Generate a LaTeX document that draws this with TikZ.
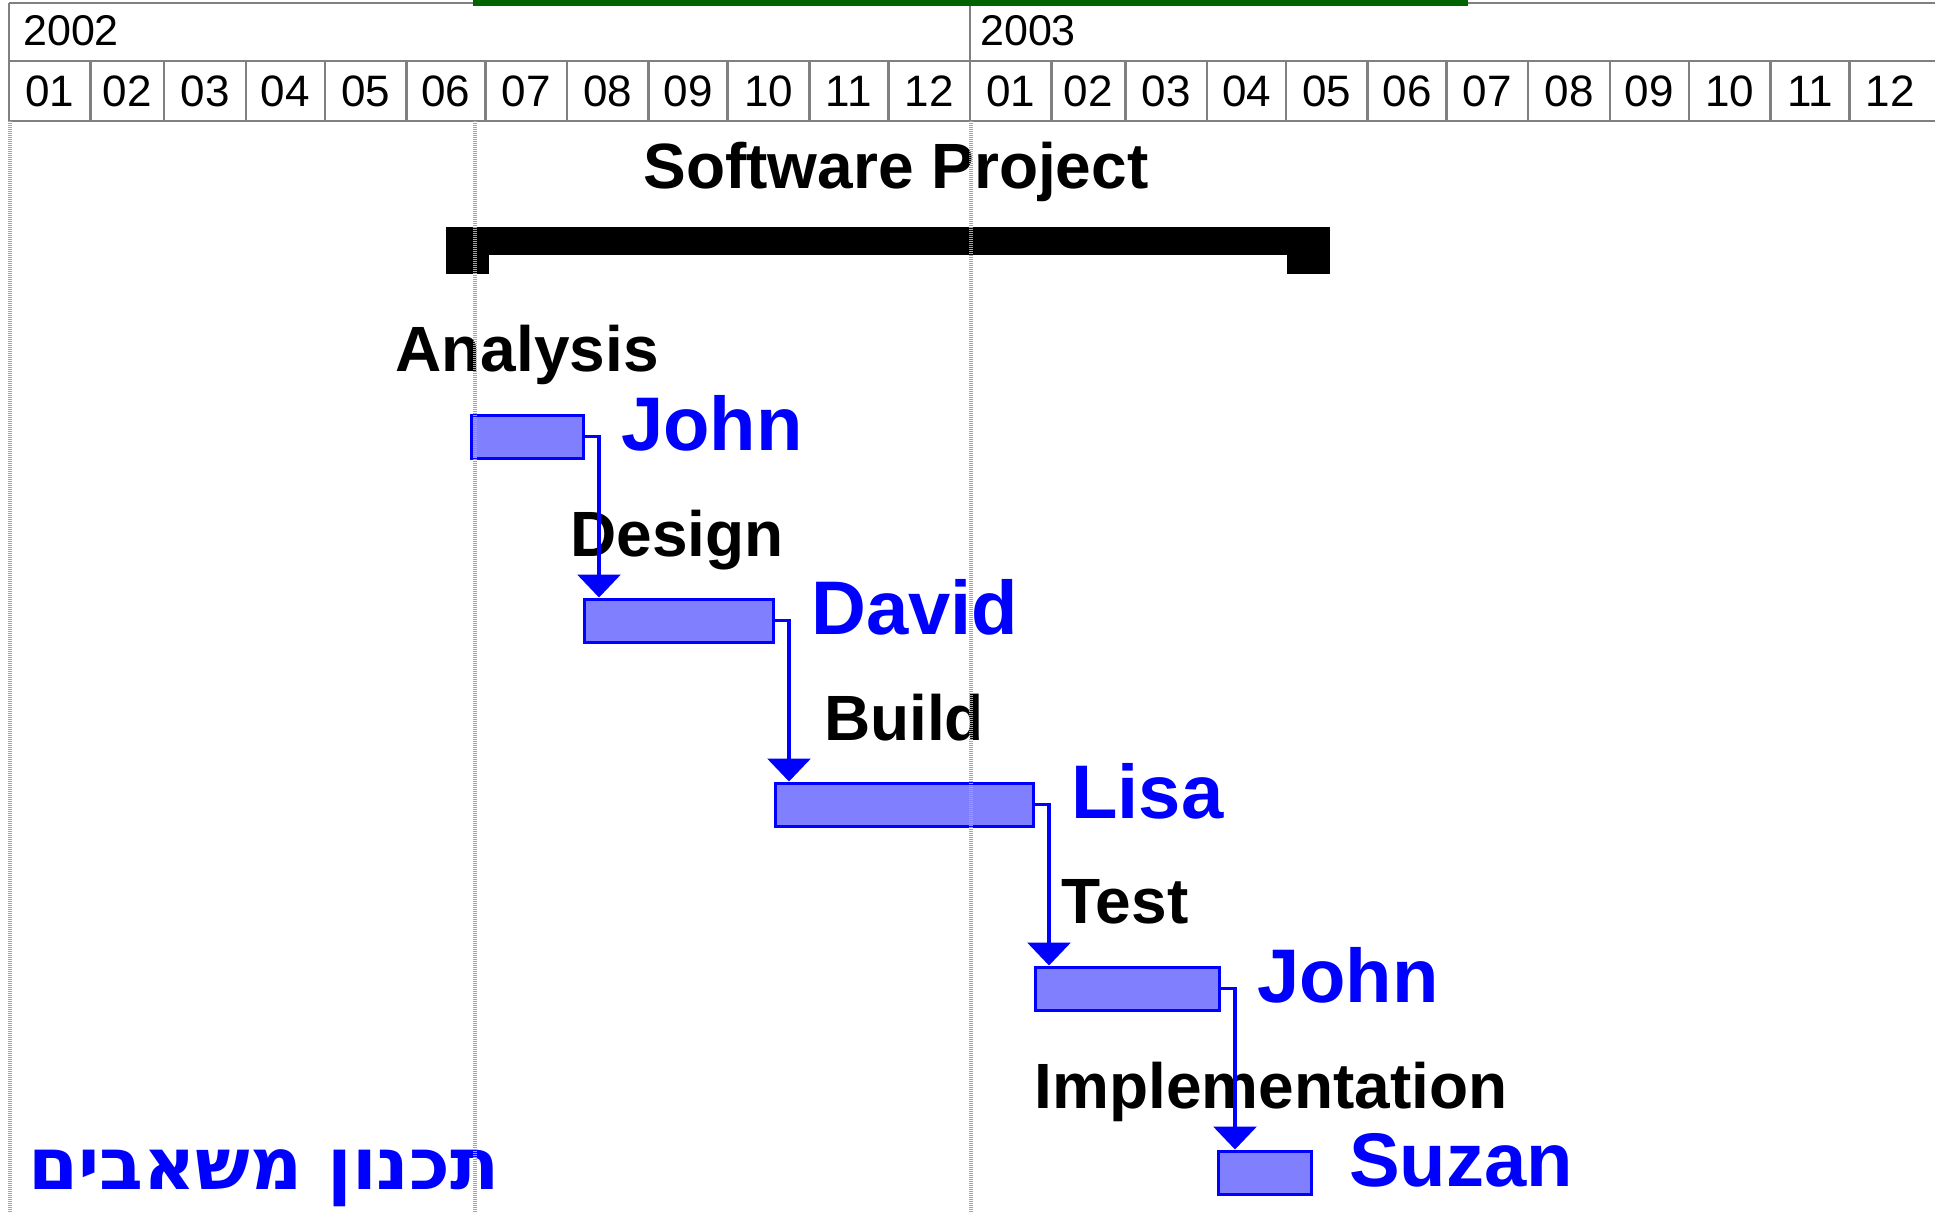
\documentclass[tikz,border=0pt]{standalone}
\usepackage{fontspec}
\setmainfont{Liberation Sans}
\newfontfamily\hebfont[Script=Hebrew]{DejaVu Sans}
\TeXXeTstate=1
\usetikzlibrary{arrows.meta}
\definecolor{gridgray}{RGB}{128,128,128}
\definecolor{dotgray}{RGB}{165,165,165}
\definecolor{barfill}{RGB}{128,128,255}
\definecolor{pblue}{RGB}{0,0,255}
\definecolor{dgreen}{RGB}{0,100,0}
\begin{document}
\begin{tikzpicture}[x=1pt,y=-1pt,
  hdr/.style={draw=gridgray,line width=2.5pt},
  vline/.style={draw=dotgray,line width=4pt,dash pattern=on 1pt off 1pt},
  monthlbl/.style={font=\fontsize{44}{44}\selectfont,inner sep=0pt,anchor=base},
  yearlbl/.style={font=\fontsize{43}{43}\selectfont,inner sep=0pt,anchor=base west},
  taskbar/.style={draw=pblue,fill=barfill,line width=3.5pt,inner sep=0pt,minimum height=43pt,anchor=north west},
  tasklbl/.style={font=\bfseries\fontsize{64}{64}\selectfont,inner sep=0pt,anchor=base},
  who/.style={font=\bfseries\fontsize{76}{76}\selectfont,text=pblue,inner sep=0pt,anchor=base west},
  conn/.style={draw=pblue,line width=3.4pt,-{Triangle[width=43pt,length=23pt]}},
]
\useasboundingbox (0,0) rectangle (1935,1213);
% header
\draw[hdr] (9,3) -- (1935,3);
\draw[hdr] (9,61) -- (1935,61);
\draw[hdr] (9,121) -- (1935,121);
\draw[hdr] (9,3) -- (9,121);
\draw[hdr] (970,3) -- (970,121);
\foreach \x in {90.5,164.2,245.9,324.9,406.5,485.5,567.1,648.7,727.7,809.3,888.3,1051.6,1125.3,1207,1286,1367.6,1446.5,1528.2,1609.8,1688.8,1770.4,1849.4}
  \draw[hdr] (\x,61) -- (\x,121);
\foreach \a/\b/\m [count=\i] in {8.9/90.5/01,90.5/164.2/02,164.2/245.9/03,245.9/324.9/04,324.9/406.5/05,406.5/485.5/06,485.5/567.1/07,567.1/648.7/08,648.7/727.7/09,727.7/809.3/10,809.3/888.3/11,888.3/970/12,970/1051.6/01,1051.6/1125.3/02,1125.3/1207/03,1207/1286/04,1286/1367.6/05,1367.6/1446.5/06,1446.5/1528.2/07,1528.2/1609.8/08,1609.8/1688.8/09,1688.8/1770.4/10,1770.4/1849.4/11,1849.4/1931/12}
  \node[monthlbl] (m\i) at ({(\a+\b)/2},106) {\m};
\node[yearlbl] (y2002) at (23,45) {2002};
\node[yearlbl] (y2003) at (980,45) {2003};
\fill[dgreen] (473,0) rectangle (1468,6);
% summary
\node[tasklbl] (title) at (896,188) {Software Project};
\node[fill=black,inner sep=0pt,minimum width=884pt,minimum height=28pt,anchor=north west] (sum) at (446,227) {};
\fill[black] (sum.north west) rectangle ++(43,47);
\fill[black] (sum.north east) rectangle ++(-43,47);
% tasks
\node[taskbar,minimum width=112pt] (t1) at (469.5,413.5) {};
\node[taskbar,minimum width=189pt] (t2) at (582.5,597.5) {};
\node[taskbar,minimum width=258pt] (t3) at (773.5,781.5) {};
\node[taskbar,minimum width=184pt] (t4) at (1033.5,965.5) {};
\node[taskbar,minimum width=93pt] (t5) at (1216.5,1149.5) {};
\node[tasklbl] (l1) at (527,371) {Analysis};
\node[tasklbl] (l2) at (677,556) {Design};
\node[tasklbl] (l3) at (904,740) {Build};
\node[tasklbl] (l4) at (1125,923) {Test};
\node[tasklbl] (l5) at (1271,1108) {Implementation};
\node[who] (n1) at ([shift={(36,37)}]t1.north east) {John};
\node[who] (n2) at ([shift={(36,37)}]t2.north east) {David};
\node[who] (n3) at ([shift={(36,37)}]t3.north east) {Lisa};
\node[who] (n4) at ([shift={(36,37)}]t4.north east) {John};
\node[who] (n5) at ([shift={(36,37)}]t5.north east) {Suzan};
\draw[conn] (t1.east) -| ([xshift=14pt]t1.east |- t2.north);
\draw[conn] (t2.east) -| ([xshift=14pt]t2.east |- t3.north);
\draw[conn] (t3.east) -| ([xshift=14pt]t3.east |- t4.north);
\draw[conn] (t4.east) -| ([xshift=14pt]t4.east |- t5.north);
\node[font=\hebfont\bfseries\fontsize{72}{72}\selectfont,text=pblue,inner sep=0pt,anchor=base west] (heb) at (28,1189) {\beginR תכנון משאבים\endR};
% grid lines
\draw[vline] (10,121) -- (10,1213);
\draw[vline] (475,121) -- (475,1213);
\draw[vline] (971,121) -- (971,1213);
\end{tikzpicture}
\end{document}
